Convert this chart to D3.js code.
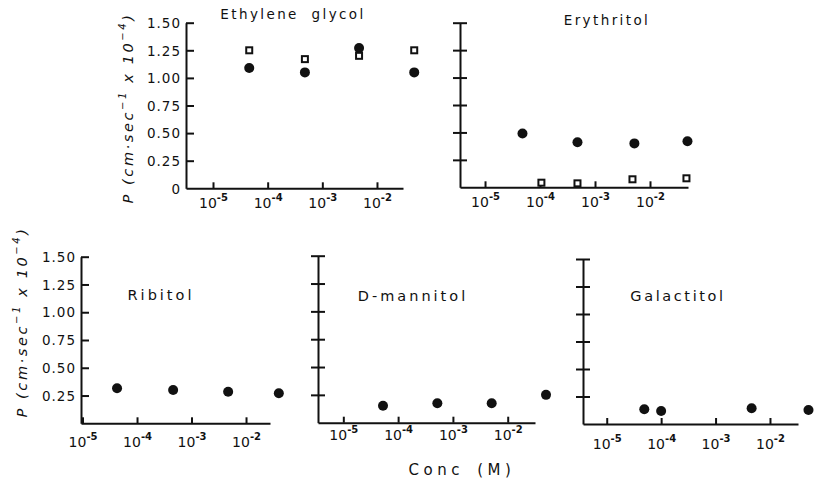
<!DOCTYPE html>
<html>
<head>
<meta charset="utf-8">
<script src="https://cdn.jsdelivr.net/npm/d3@7"></script>
<style>
  html, body { margin: 0; padding: 0; background: #fff; }
  svg { display: block; }
  text { font-family: "DejaVu Sans", "Liberation Sans", Arial, sans-serif; fill: #111; }
</style>
</head>
<body>
<svg id="chart" width="814" height="478"></svg>
<script>
// ---------------- DATA ----------------
const panelNames = ["Ethylene glycol", "Erythritol", "Ribitol", "D-mannitol", "Galactitol"];

const xTickValues = [1e-5, 1e-4, 1e-3, 1e-2];
const xTickExponents = ["-5", "-4", "-3", "-2"];
const yTickValues = [0, 0.25, 0.5, 0.75, 1.0, 1.25, 1.5];
const yTickLabels = ["0", "0.25", "0.50", "0.75", "1.00", "1.25", "1.50"];

// Ethylene glycol
const egConc = [4.6e-5, 4.8e-4, 4.7e-3, 4.8e-2];
const egFilled = [1.09, 1.05, 1.27, 1.05];
const egOpen = [1.25, 1.17, 1.20, 1.25];

// Erythritol
const eryConcFilled = [4.8e-5, 4.8e-4, 5.2e-3, 4.8e-2];
const eryFilled = [0.49, 0.41, 0.40, 0.42];
const eryConcOpen = [1.06e-4, 4.8e-4, 4.8e-3, 4.6e-2];
const eryOpen = [0.042, 0.036, 0.073, 0.082];

// Ribitol
const ribConc = [4.3e-5, 4.6e-4, 4.7e-3, 4.0e-2];
const ribFilled = [0.315, 0.30, 0.284, 0.27];

// D-mannitol
const manConc = [5.3e-5, 5.2e-4, 5.1e-3, 5.0e-2];
const manFilled = [0.153, 0.174, 0.174, 0.25];

// Galactitol
const galConc = [4.9e-5, 1.0e-4, 4.6e-3, 5.1e-2];
const galFilled = [0.134, 0.118, 0.143, 0.127];

const yAxisTitle = "P (cm\u00B7sec";
const xAxisTitle = "Conc (M)";

// ---------------- LAYOUT ----------------
const layout = [
  { x0: 186, x1: 403, lo: -5.494, hi: -1.524, yb: 188.3, yt: 22.7, ticks: "inLabeled", zeroLabel: true,
    titleX: 293, titleY: 19, titleSize: 13.5, titleLS: 2.4, xLabY: 208, yLabX: 128, yLabY: 108 },
  { x0: 460, x1: 688, lo: -5.455, hi: -1.309, yb: 187.3, yt: 22.7, ticks: "cross",
    titleX: 607, titleY: 25, titleSize: 13.5, titleLS: 2.4, xLabY: 207 },
  { x0: 81, x1: 270, lo: -5.028, hi: -1.56, yb: 423.3, yt: 256.7, ticks: "inLabeled", zeroLabel: false,
    titleX: 161, titleY: 300, titleSize: 14.5, titleLS: 3, xLabY: 447, yLabX: 22, yLabY: 322 },
  { x0: 318, x1: 535, lo: -5.462, hi: -1.502, yb: 422.7, yt: 255.7, ticks: "cross",
    titleX: 413, titleY: 301, titleSize: 14.5, titleLS: 3, xLabY: 440 },
  { x0: 583, x1: 798, lo: -5.436, hi: -1.485, yb: 424, yt: 259, ticks: "cross",
    titleX: 678, titleY: 301, titleSize: 14.5, titleLS: 2.6, xLabY: 449 }
];

const filledSeries = [
  { conc: egConc, vals: egFilled },
  { conc: eryConcFilled, vals: eryFilled },
  { conc: ribConc, vals: ribFilled },
  { conc: manConc, vals: manFilled },
  { conc: galConc, vals: galFilled }
];
const openSeries = [
  { conc: egConc, vals: egOpen },
  { conc: eryConcOpen, vals: eryOpen },
  null, null, null
];

const FONT = "'DejaVu Sans', 'Liberation Sans', Arial, sans-serif";
const svg = d3.select("#chart");
const SW = 2;

layout.forEach((L, i) => {
  const x = d3.scaleLog().domain([Math.pow(10, L.lo), Math.pow(10, L.hi)]).range([L.x0, L.x1]);
  const y = d3.scaleLinear().domain([0, 1.5]).range([L.yb, L.yt]);
  const g = svg.append("g");

  // X axis
  const xAxis = d3.axisBottom(x).tickValues(xTickValues).tickSizeInner(-6).tickSizeOuter(0).tickFormat("");
  const gx = g.append("g").attr("transform", `translate(0,${L.yb})`).call(xAxis);
  gx.attr("font-family", FONT).attr("font-size", 14);
  gx.select(".domain").attr("stroke", "#111").attr("stroke-width", SW);
  gx.selectAll(".tick line").attr("stroke", "#111").attr("stroke-width", SW);
  gx.selectAll(".tick").each(function(d, k) {
    const t = d3.select(this).append("text")
      .attr("x", 0).attr("y", L.xLabY - L.yb)
      .attr("text-anchor", "middle")
      .attr("fill", "#111")
      .style("font-size", "14px");
    t.append("tspan").text("10");
    t.append("tspan").attr("dy", -7).style("font-size", "10px").attr("font-weight", "bold").text(xTickExponents[k]);
  });

  // Y axis
  let tv = yTickValues.slice();
  if (L.ticks === "inLabeled") {
    if (!L.zeroLabel) tv = tv.filter(v => v > 0);
    const yAxis = d3.axisLeft(y).tickValues(tv).tickSizeInner(-8).tickSizeOuter(0)
      .tickFormat(v => yTickLabels[yTickValues.indexOf(v)]);
    const gy = g.append("g").attr("transform", `translate(${L.x0},0)`).call(yAxis);
    gy.attr("font-family", FONT).attr("font-size", 13.5);
    gy.select(".domain").attr("stroke", "#111").attr("stroke-width", SW);
    gy.selectAll(".tick line").attr("stroke", "#111").attr("stroke-width", SW)
      .attr("display", v => v === 0 ? "none" : null);
    gy.selectAll(".tick text").attr("x", -5)
      .attr("letter-spacing", "1px").attr("fill", "#111").attr("dy", "0.35em");
  } else {
    tv = tv.filter(v => v > 0);
    const yAxis = d3.axisLeft(y).tickValues(tv).tickSizeInner(7).tickSizeOuter(0).tickFormat("");
    const gy = g.append("g").attr("transform", `translate(${L.x0},0)`).call(yAxis);
    gy.select(".domain").attr("stroke", "#111").attr("stroke-width", SW);
    gy.selectAll(".tick line").attr("stroke", "#111").attr("stroke-width", SW).attr("x1", 7);
  }

  // Title
  g.append("text").attr("x", L.titleX).attr("y", L.titleY).attr("text-anchor", "middle")
    .style("font-size", L.titleSize + "px").attr("letter-spacing", L.titleLS + "px").attr("word-spacing", "6px")
    .text(panelNames[i]);

  // Y axis title
  if (L.yLabX !== undefined) {
    const t = g.append("text")
      .attr("transform", `translate(${L.yLabX},${L.yLabY}) rotate(-90)`)
      .attr("text-anchor", "middle").attr("dominant-baseline", "central")
      .style("font-size", "14.5px").attr("font-style", "italic").attr("letter-spacing", "2.6px");
    t.append("tspan").text(yAxisTitle);
    t.append("tspan").attr("dy", -6).style("font-size", "10px").text("\u2212" + "1");
    t.append("tspan").attr("dy", 6).text(" x 10");
    t.append("tspan").attr("dy", -6).style("font-size", "10px").text("\u2212" + "4");
    t.append("tspan").attr("dy", 6).text(")");
  }

  // Filled circles
  const fs = filledSeries[i];
  g.append("g").selectAll("circle").data(fs.vals).join("circle")
    .attr("cx", (d, k) => x(fs.conc[k])).attr("cy", d => y(d)).attr("r", 5).attr("fill", "#111");

  // Open squares
  const os = openSeries[i];
  if (os) {
    const s = 6;
    g.append("g").selectAll("rect").data(os.vals).join("rect")
      .attr("x", (d, k) => x(os.conc[k]) - s / 2).attr("y", d => y(d) - s / 2)
      .attr("width", s).attr("height", s)
      .attr("fill", "#fff").attr("stroke", "#111").attr("stroke-width", 2);
  }
});

// Common x-axis title
svg.append("text").attr("x", 462).attr("y", 475).attr("text-anchor", "middle")
  .style("font-size", "15px").attr("letter-spacing", "4.5px").attr("word-spacing", "4px")
  .text(xAxisTitle);
</script>
</body>
</html>
